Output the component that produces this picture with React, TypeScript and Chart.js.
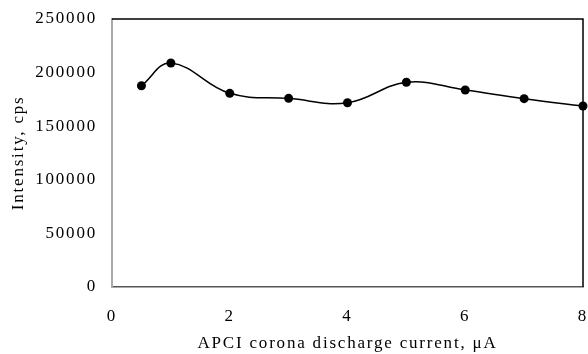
import React, { useEffect, useRef } from "react";
import { Chart, registerables } from "chart.js";

Chart.register(...registerables);

const currents = [0.5, 1, 2, 3, 4, 5, 6, 7, 8];
const intensities = [187700, 208900, 180600, 175900, 171800, 190900, 183700, 175600, 168700];
const xTicks = [0, 2, 4, 6, 8];
const yTicks = [0, 50000, 100000, 150000, 200000, 250000];

const FONT = "'Liberation Serif', 'Times New Roman', serif";
const LS = "1.8px";

const spacing = {
  id: "spacing",
  beforeUpdate(chart: any) {
    chart.ctx.letterSpacing = LS;
  },
  beforeDraw(chart: any) {
    chart.ctx.letterSpacing = LS;
  },
  afterDraw(chart: any) {
    const { ctx, chartArea } = chart;
    ctx.save();
    ctx.strokeStyle = "#000";
    ctx.lineWidth = 1.5;
    ctx.beginPath();
    ctx.moveTo(chartArea.left, chartArea.top);
    ctx.lineTo(chartArea.right, chartArea.top);
    ctx.lineTo(chartArea.right, chartArea.bottom);
    ctx.stroke();
    ctx.restore();
  },
};

export default function App() {
  const ref = useRef<HTMLCanvasElement>(null);
  useEffect(() => {
    if (!ref.current) return;
    const chart = new Chart(ref.current, {
      type: "line",
      data: {
        datasets: [
          {
            data: currents.map((x, i) => ({ x, y: intensities[i] })),
            borderColor: "#000",
            backgroundColor: "#000",
            borderWidth: 1.5,
            pointRadius: 4.5,
            pointBackgroundColor: "#000",
            pointBorderWidth: 0,
            tension: 0.4,
            clip: false as any,
          },
        ],
      },
      options: {
        animation: false,
        responsive: false,
        events: [],
        layout: { padding: { top: 19, right: 5, left: 0, bottom: 0 } },
        plugins: { legend: { display: false }, tooltip: { enabled: false } },
        scales: {
          x: {
            type: "linear",
            min: 0,
            max: 8,
            afterBuildTicks: (s: any) => {
              s.ticks = xTicks.map((v) => ({ value: v }));
            },
            afterFit: (s: any) => {
              s.height = 67.3;
              s.paddingLeft = 0;
              s.paddingRight = 0;
            },
            grid: { display: false, drawTicks: false },
            border: { display: true, color: "#555", width: 1.5 },
            ticks: { padding: 20, color: "#000", font: { family: FONT, size: 17 }, maxRotation: 0 },
            title: {
              display: true,
              text: "APCI corona discharge current, μA",
              color: "#000",
              font: { family: FONT, size: 17 },
              padding: { top: 0, bottom: 0 },
            },
          },
          y: {
            min: 0,
            max: 250000,
            afterBuildTicks: (s: any) => {
              s.ticks = yTicks.map((v) => ({ value: v }));
            },
            afterFit: (s: any) => {
              s.width = 112;
              s.paddingTop = 0;
              s.paddingBottom = 0;
            },
            grid: { display: false, drawTicks: false },
            border: { display: true, color: "#aaa", width: 2 },
            ticks: {
              padding: 15,
              color: "#000",
              font: { family: FONT, size: 17 },
              callback: (v: any) => String(v),
            },
            title: {
              display: true,
              text: "Intensity, cps",
              color: "#000",
              font: { family: FONT, size: 17 },
              padding: { top: 8, bottom: 8 },
            },
          },
        },
      },
      plugins: [spacing],
    });
    return () => chart.destroy();
  }, []);
  return (
    <div style={{ position: "fixed", left: 0, top: 0, width: 588, height: 354, background: "#fff" }}>
      <canvas ref={ref} width={588} height={354} style={{ display: "block", width: 588, height: 354 }} />
    </div>
  );
}
